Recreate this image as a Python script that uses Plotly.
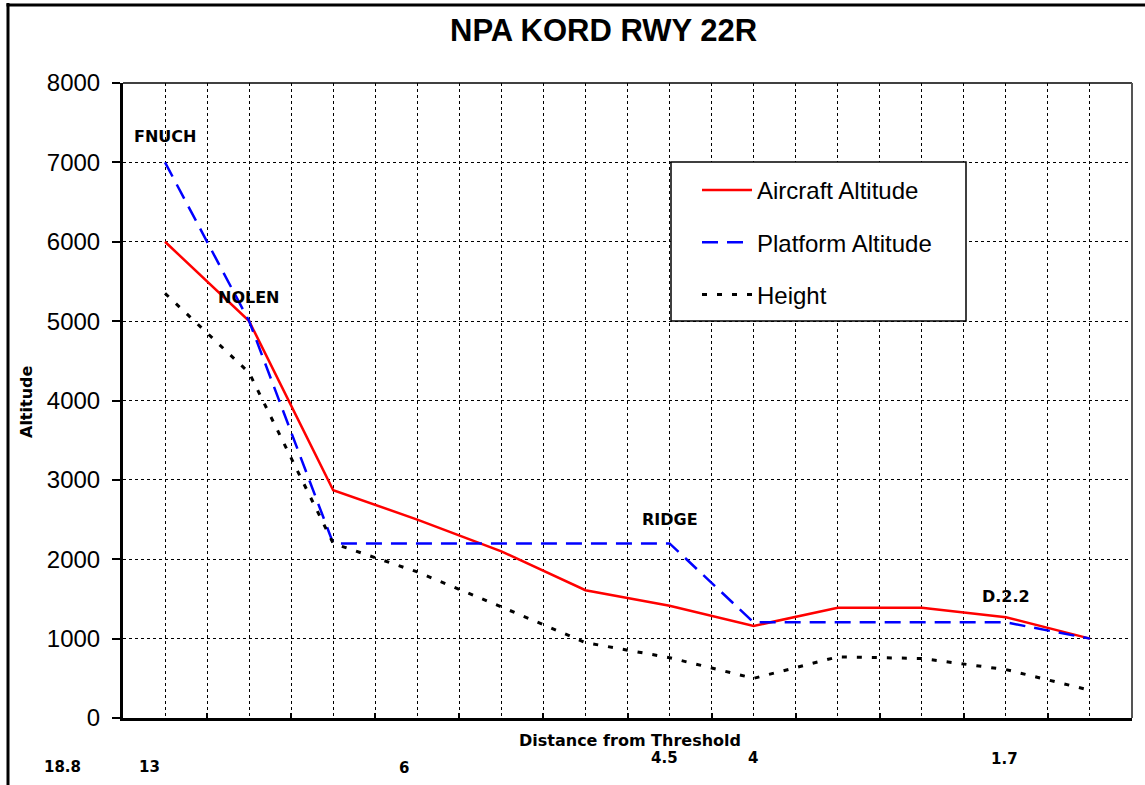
import plotly.graph_objects as go

# ---- data ----
point_index = list(range(12))
aircraft_alt = [6000, 5000, 2870, 2500, 2100, 1610, 1415, 1160, 1390, 1390, 1270, 1000]
platform_alt = [7000, 5000, 2200, 2200, 2200, 2200, 2200, 1205, 1205, 1205, 1205, 1000]
height_vals = [5350, 4350, 2200, 1840, 1400, 950, 760, 500, 770, 750, 610, 350]

waypoint_names = ["FNUCH", "NOLEN", "RIDGE", "D.2.2"]
waypoint_index = [0, 1, 6, 10]
waypoint_label_alt = [7320, 5300, 2500, 1525]

dist_labels = ["18.8", "13", "6", "4.5", "4", "1.7"]
y_ticks = [0, 1000, 2000, 3000, 4000, 5000, 6000, 7000, 8000]

# ---- layout geometry (pixels) ----
W, H = 1145, 785
PL, PR, PT, PB = 123, 1132, 83, 718


def px_x(px):
    return (px - PL) / (PR - PL)


def px_y(py):
    return (PB - py) / (PB - PT)


dist_label_pos = [(62, 767), (149, 767), (404, 768), (664, 758), (753, 758), (1004, 759)]

fig = go.Figure()
fig.add_trace(go.Scatter(x=point_index, y=aircraft_alt, mode="lines", name="Aircraft Altitude",
                         legendgroup="a", line=dict(color="#FF0000", width=2.5)))
fig.add_trace(go.Scatter(x=point_index, y=platform_alt, mode="lines", name="Platform Altitude",
                         legendgroup="b", line=dict(color="#0000FF", width=2.5, dash="16px,9px")))
fig.add_trace(go.Scatter(x=point_index, y=height_vals, mode="lines", name="Height",
                         legendgroup="c", line=dict(color="#000000", width=3, dash="5px,10px")))

grid_dash = "3px,3px"
fig.update_xaxes(range=[-0.5, 11.5], showline=True, linecolor="black", linewidth=3,
                 tickmode="array", tickvals=[i + 0.5 for i in range(11)], ticks="inside",
                 ticklen=5, tickwidth=2, tickcolor="black", showticklabels=False,
                 showgrid=True, gridcolor="black", gridwidth=1, griddash=grid_dash,
                 zeroline=False,
                 minor=dict(tickmode="array", tickvals=point_index, showgrid=True,
                            gridcolor="black", gridwidth=1, griddash=grid_dash, ticks=""))
fig.update_yaxes(range=[0, 8000], tickmode="array", tickvals=y_ticks, showline=True,
                 linecolor="black", linewidth=3, ticks="outside", ticklen=8, tickwidth=2,
                 tickcolor="black", tickfont=dict(family="Liberation Sans, Arial", size=24, color="black"),
                 ticklabelstandoff=7,
                 showgrid=True, gridcolor="black", gridwidth=1, griddash=grid_dash, zeroline=False)

shapes = [
    # plot border top and right
    dict(type="line", xref="paper", yref="paper", x0=0, x1=1, y0=1, y1=1,
         line=dict(color="black", width=1.5)),
    dict(type="line", xref="paper", yref="paper", x0=1, x1=1, y0=0, y1=1,
         line=dict(color="#555555", width=2)),
    # legend box
    dict(type="rect", xref="paper", yref="paper", x0=px_x(671), x1=px_x(966), y0=px_y(321), y1=px_y(162),
         fillcolor="white", line=dict(color="black", width=1.5), layer="above"),
    # outer frame
    dict(type="line", xref="paper", yref="paper", x0=px_x(8), x1=px_x(8), y0=px_y(3), y1=px_y(790),
         line=dict(color="black", width=3)),
    dict(type="line", xref="paper", yref="paper", x0=px_x(6.5), x1=px_x(1150), y0=px_y(5), y1=px_y(5),
         line=dict(color="black", width=3)),
]

annotations = []
lab_font = dict(family="DejaVu Sans", size=16, color="black", weight="bold")
for name, idx, alt in zip(waypoint_names, waypoint_index, waypoint_label_alt):
    annotations.append(dict(x=idx, y=alt, xref="x", yref="y", text=name, showarrow=False,
                            xanchor="center", yanchor="middle", font=lab_font))
for lab, (px, py) in zip(dist_labels, dist_label_pos):
    annotations.append(dict(x=px_x(px), y=px_y(py), xref="paper", yref="paper", text=lab,
                            showarrow=False, xanchor="center", yanchor="middle",
                            font=dict(family="DejaVu Sans", size=15, color="black", weight="bold")))
annotations.append(dict(x=px_x(630), y=px_y(740), xref="paper", yref="paper",
                        text="Distance from Threshold", showarrow=False,
                        xanchor="center", yanchor="middle", font=lab_font))
annotations.append(dict(x=px_x(27), y=px_y(402), xref="paper", yref="paper", text="Altitude",
                        textangle=-90, showarrow=False, xanchor="center", yanchor="middle",
                        font=lab_font))
annotations.append(dict(x=px_x(603), y=px_y(30), xref="paper", yref="paper", text="NPA KORD RWY 22R",
                        showarrow=False, xanchor="center", yanchor="middle",
                        font=dict(family="Liberation Sans, Arial", size=31, color="black", weight="bold")))

fig.update_layout(
    width=W, height=H,
    margin=dict(l=PL, r=W - PR, t=PT, b=H - PB, pad=0),
    paper_bgcolor="white", plot_bgcolor="white",
    showlegend=True,
    legend=dict(x=px_x(697), y=px_y(168), xanchor="left", yanchor="top",
                bgcolor="rgba(0,0,0,0)", borderwidth=0, tracegroupgap=18, itemwidth=50,
                font=dict(family="Liberation Sans, Arial", size=24, color="black")),
    shapes=shapes,
    annotations=annotations,
)

fig.write_html("out.html", config={"displayModeBar": False},
               post_script="document.body.style.margin='0';")
